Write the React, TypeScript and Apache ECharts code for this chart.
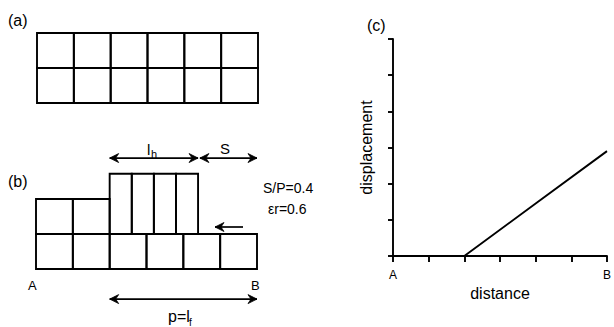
import React, { useEffect, useRef } from "react";
import * as echarts from "echarts";

// Panel (a): undeformed blocks [x, y, width, height] in block units
const blocksA: number[][] = [
  [0, 0, 1, 1], [1, 0, 1, 1], [2, 0, 1, 1], [3, 0, 1, 1], [4, 0, 1, 1], [5, 0, 1, 1],
  [0, 1, 1, 1], [1, 1, 1, 1], [2, 1, 1, 1], [3, 1, 1, 1], [4, 1, 1, 1], [5, 1, 1, 1],
];

// Panel (b): deformed blocks [x, y, width, height]
const blocksB: number[][] = [
  [0, 0, 1, 1], [1, 0, 1, 1], [2, 0, 1, 1], [3, 0, 1, 1], [4, 0, 1, 1], [5, 0, 1, 1],
  [0, 1, 1, 1], [1, 1, 1, 1],
  [2, 1, 0.6, 1.72], [2.6, 1, 0.6, 1.72], [3.2, 1, 0.6, 1.72], [3.8, 1, 0.6, 1.72],
];

// Panel (b): arrows [x1, y1, x2, y2, headAtStart, headAtEnd]
const arrowsB: number[][] = [
  [2.0, 3.17, 4.4, 3.17, 1, 1],
  [4.45, 3.17, 6.0, 3.17, 1, 1],
  [4.86, 1.2, 5.62, 1.2, 1, 0],
  [2.0, -0.86, 6.0, -0.86, 1, 1],
];

// Panel (c): displacement vs distance
const distance = [0, 2, 4, 6];
const displacement = [0, 0, 1.45, 2.9];
const xTickLabels = ["A", "", "", "", "", "", "B"];

const FONT = "Liberation Sans";
const INK = "#000";
const LW = 1.9;

function rectItem(params: any, api: any) {
  const x0 = api.value(0), y0 = api.value(1), w = api.value(2), h = api.value(3);
  const p1 = api.coord([x0, y0 + h]);
  const p2 = api.coord([x0 + w, y0]);
  return {
    type: "rect",
    shape: { x: p1[0], y: p1[1], width: p2[0] - p1[0], height: p2[1] - p1[1] },
    style: { fill: "none", stroke: INK, lineWidth: LW },
  };
}

function head(tip: number[], dx: number, dy: number) {
  const L = 9, W = 4.5, N = 6;
  const nx = -dy, ny = dx;
  return {
    type: "polygon",
    shape: {
      points: [
        [tip[0], tip[1]],
        [tip[0] - dx * L + nx * W, tip[1] - dy * L + ny * W],
        [tip[0] - dx * N, tip[1] - dy * N],
        [tip[0] - dx * L - nx * W, tip[1] - dy * L - ny * W],
      ],
    },
    style: { fill: INK, stroke: INK, lineWidth: 0.8 },
  };
}

function arrowItem(params: any, api: any) {
  const a = api.coord([api.value(0), api.value(1)]);
  const b = api.coord([api.value(2), api.value(3)]);
  const len = Math.hypot(b[0] - a[0], b[1] - a[1]) || 1;
  const dx = (b[0] - a[0]) / len, dy = (b[1] - a[1]) / len;
  const children: any[] = [
    {
      type: "line",
      shape: { x1: a[0], y1: a[1], x2: b[0], y2: b[1] },
      style: { stroke: INK, lineWidth: 1.7 },
    },
  ];
  if (api.value(4)) children.push(head(a, -dx, -dy));
  if (api.value(5)) children.push(head(b, dx, dy));
  return { type: "group", children };
}

function txt(text: string, x: number, y: number, size: number, align = "left") {
  return {
    type: "text",
    x,
    y,
    style: {
      text,
      fontSize: size,
      fontFamily: FONT,
      fill: INK,
      align,
      verticalAlign: "middle",
    },
  };
}

export default function App() {
  const ref = useRef<HTMLDivElement>(null);
  useEffect(() => {
    if (!ref.current) return;
    const chart = echarts.init(ref.current, undefined, { renderer: "svg" });
    const hidden = { show: false };
    const option: any = {
      animation: false,
      backgroundColor: "#fff",
      textStyle: { fontFamily: FONT },
      grid: [
        { left: 37, top: 33, width: 221, height: 70 },
        { left: 36, top: 129, width: 221, height: 175 },
        { left: 393, top: 39, width: 219, height: 217 },
      ],
      xAxis: [
        { gridIndex: 0, type: "value", min: 0, max: 6, ...hidden },
        { gridIndex: 1, type: "value", min: 0, max: 6, ...hidden },
        {
          gridIndex: 2,
          type: "value",
          min: 0,
          max: 6,
          interval: 1,
          axisLine: { show: true, onZero: false, lineStyle: { color: INK, width: LW } },
          axisTick: { show: true, length: 6, lineStyle: { color: INK, width: LW } },
          splitLine: { show: false },
          axisLabel: {
            show: true,
            margin: 13,
            color: INK,
            fontSize: 12,
            fontFamily: FONT,
            formatter: (v: number) => xTickLabels[Math.round(v)] ?? "",
          },
          name: "distance",
          nameLocation: "middle",
          nameGap: 18,
          nameTextStyle: { fontSize: 16, color: INK, fontFamily: FONT },
        },
      ],
      yAxis: [
        { gridIndex: 0, type: "value", min: 0, max: 2, ...hidden },
        { gridIndex: 1, type: "value", min: -1, max: 4, ...hidden },
        {
          gridIndex: 2,
          type: "value",
          min: 0,
          max: 6,
          interval: 1,
          axisLine: { show: true, onZero: false, lineStyle: { color: INK, width: LW } },
          axisTick: { show: true, length: 5, lineStyle: { color: INK, width: LW } },
          splitLine: { show: false },
          axisLabel: { show: false },
          name: "displacement",
          nameLocation: "middle",
          nameRotate: 90,
          nameGap: 19,
          nameTextStyle: { fontSize: 16, color: INK, fontFamily: FONT },
        },
      ],
      series: [
        {
          type: "custom",
          xAxisIndex: 0,
          yAxisIndex: 0,
          renderItem: rectItem,
          data: blocksA,
          silent: true,
        },
        {
          type: "custom",
          xAxisIndex: 1,
          yAxisIndex: 1,
          renderItem: rectItem,
          data: blocksB,
          silent: true,
        },
        {
          type: "custom",
          xAxisIndex: 1,
          yAxisIndex: 1,
          renderItem: arrowItem,
          data: arrowsB,
          silent: true,
        },
        {
          type: "line",
          xAxisIndex: 2,
          yAxisIndex: 2,
          data: distance.map((d, i) => [d, displacement[i]]),
          showSymbol: false,
          lineStyle: { color: INK, width: LW },
          silent: true,
        },
      ],
      graphic: [
        txt("(a)", 8, 20, 16),
        txt("(b)", 8, 181, 16),
        txt("(c)", 367, 25, 16),
        txt("l", 147, 149, 15),
        txt("h", 151, 154, 11),
        txt("S", 220, 148, 15),
        txt("S/P=0.4", 263, 188, 14),
        txt("εr=0.6", 268, 209, 14),
        txt("A", 28, 285, 13),
        txt("B", 251, 285, 13),
        txt("p=l", 168, 316, 16),
        txt("f", 189, 322, 10),
      ],
    };
    chart.setOption(option);
    return () => chart.dispose();
  }, []);
  return (
    <div
      ref={ref}
      style={{ position: "fixed", left: 0, top: 0, width: 614, height: 327 }}
    />
  );
}
